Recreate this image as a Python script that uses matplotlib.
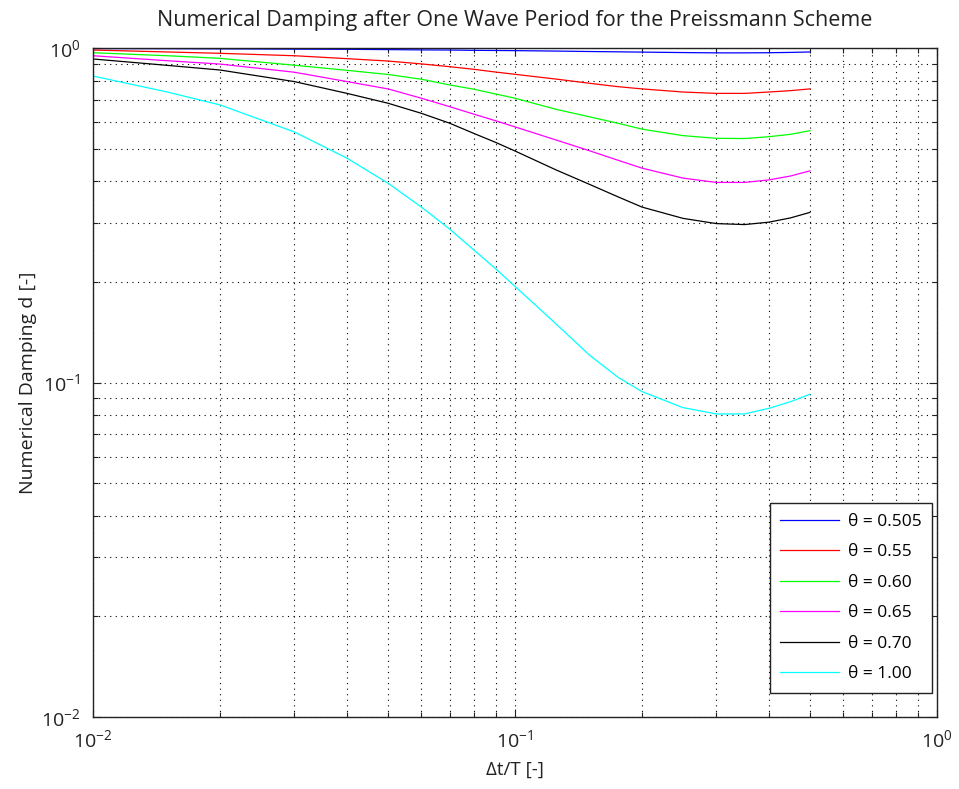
import matplotlib
matplotlib.use("Agg")
import matplotlib.pyplot as plt
from matplotlib.ticker import LogLocator, NullFormatter

plt.rcParams['font.family'] = ['Open Sans', 'DejaVu Sans']
plt.rcParams['mathtext.fontset'] = 'custom'
plt.rcParams['mathtext.rm'] = 'Open Sans'
plt.rcParams['mathtext.it'] = 'Open Sans:italic'

# Time step relative to wave period
dt_over_T = [0.01, 0.015, 0.02, 0.03, 0.04, 0.05, 0.06, 0.07, 0.08, 0.09,
             0.1, 0.125, 0.15, 0.175, 0.2, 0.25, 0.3, 0.35, 0.4, 0.45, 0.5]

# Damping after one wave period for each theta
d_0505 = [0.998, 0.997, 0.996, 0.994, 0.993, 0.991, 0.989, 0.988, 0.986, 0.985,
          0.984, 0.981, 0.978, 0.976, 0.974, 0.971, 0.969, 0.969, 0.970, 0.972, 0.975]
d_055 = [0.988, 0.975, 0.966, 0.950, 0.931, 0.916, 0.898, 0.881, 0.865, 0.849,
         0.836, 0.809, 0.786, 0.768, 0.756, 0.740, 0.733, 0.733, 0.740, 0.747, 0.756]
d_060 = [0.970, 0.950, 0.933, 0.890, 0.859, 0.835, 0.808, 0.777, 0.754, 0.730,
         0.709, 0.657, 0.624, 0.597, 0.573, 0.548, 0.538, 0.537, 0.544, 0.553, 0.567]
d_065 = [0.950, 0.918, 0.897, 0.848, 0.795, 0.756, 0.709, 0.669, 0.635, 0.607,
         0.582, 0.532, 0.494, 0.463, 0.438, 0.409, 0.397, 0.397, 0.404, 0.415, 0.430]
d_070 = [0.929, 0.889, 0.861, 0.795, 0.733, 0.685, 0.639, 0.597, 0.556, 0.523,
         0.493, 0.433, 0.392, 0.360, 0.335, 0.310, 0.299, 0.297, 0.302, 0.311, 0.323]
d_100 = [0.826, 0.740, 0.677, 0.562, 0.469, 0.395, 0.335, 0.288, 0.249, 0.219,
         0.194, 0.150, 0.121, 0.104, 0.094, 0.0842, 0.0806, 0.0806, 0.0838, 0.0877, 0.0923]

series = [d_0505, d_055, d_060, d_065, d_070, d_100]
labels = ['θ = 0.505', 'θ = 0.55', 'θ = 0.60', 'θ = 0.65', 'θ = 0.70', 'θ = 1.00']
colors = ['#0000ff', '#ff0000', '#00ff00', '#ff00ff', '#000000', '#00ffff']

fig = plt.figure(figsize=(9.59, 7.89), dpi=100)
ax = fig.add_axes([0.097, 0.0913, 0.880, 0.8475])

for ys, lab, col in zip(series, labels, colors):
    ax.plot(dt_over_T, ys, color=col, lw=0.9, label=lab)

ax.set_xscale('log')
ax.set_yscale('log')
ax.set_xlim(0.01, 1)
ax.set_ylim(0.01, 1)

ax.xaxis.set_major_locator(LogLocator(base=10, numticks=10))
ax.yaxis.set_major_locator(LogLocator(base=10, numticks=10))
ax.xaxis.set_minor_locator(LogLocator(base=10, subs=range(2, 10), numticks=20))
ax.yaxis.set_minor_locator(LogLocator(base=10, subs=range(2, 10), numticks=20))
ax.xaxis.set_minor_formatter(NullFormatter())
ax.yaxis.set_minor_formatter(NullFormatter())

ax.grid(True, which='both', color='black', linestyle=(0, (1, 4)), linewidth=0.8)
ax.tick_params(which='both', direction='in', top=True, right=True,
               labelsize=14, colors='#222222')
ax.tick_params(which='major', length=6, width=0.8, pad=9)
ax.tick_params(which='minor', length=3.5, width=0.8)
for sp in ax.spines.values():
    sp.set_linewidth(1.0)
    sp.set_color('#222222')

ax.set_title('Numerical Damping after One Wave Period for the Preissmann Scheme',
             fontsize=15.5, pad=16, color='#222222')
ax.set_xlabel('Δt/T [-]', fontsize=13.5, color='#222222', labelpad=7)
ax.set_ylabel('Numerical Damping d [-]', fontsize=14, color='#222222', labelpad=3)

leg = ax.legend(loc='lower right', bbox_to_anchor=(0.994, 0.036), borderaxespad=0,
                fontsize=12.5, fancybox=False, framealpha=1, edgecolor='#222222',
                handlelength=3.4, labelspacing=0.83, borderpad=0.6, handletextpad=0.5)
leg.get_frame().set_linewidth(1.0)

fig.savefig('out.png', dpi=100)
